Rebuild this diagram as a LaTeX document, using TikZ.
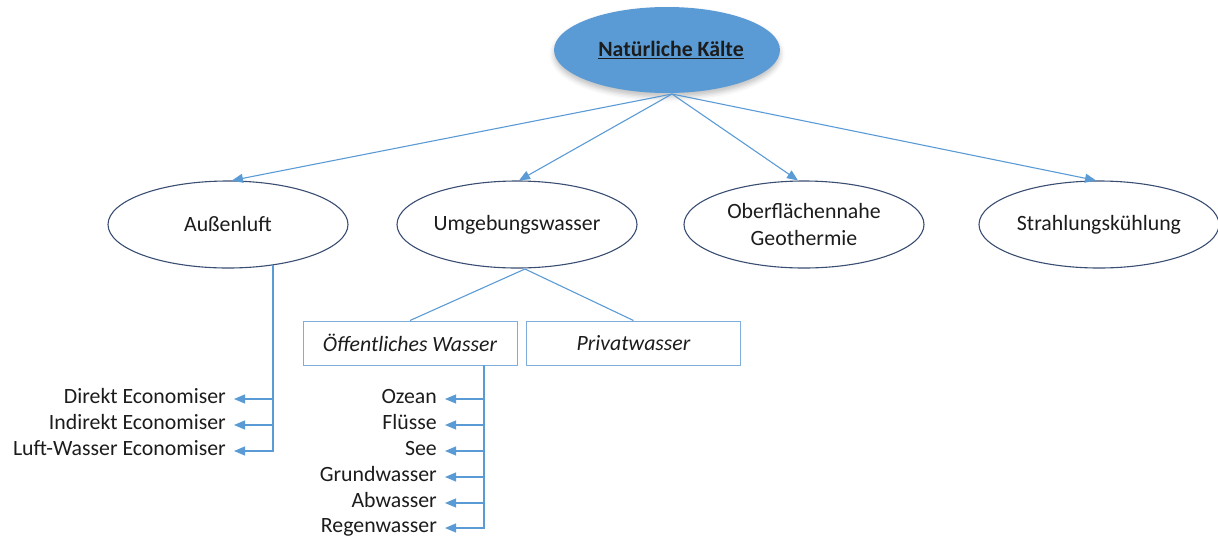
\documentclass[tikz,border=0pt]{standalone}
\usepackage{fontspec}
\setmainfont{Carlito}
\usetikzlibrary{shapes.geometric,arrows.meta,shadows.blur}
\definecolor{linkblue}{HTML}{5B9BD5}
\definecolor{rootfill}{HTML}{5B9BD5}
\definecolor{ringblue}{HTML}{3A4D73}
\definecolor{boxblue}{HTML}{7FAEDD}
\definecolor{ink}{HTML}{1C1C1C}
\newcommand{\diafont}{\fontsize{21.8}{27}\selectfont}
\tikzset{
  oval/.style={ellipse, draw=ringblue, line width=1.1pt, fill=white,
    minimum width=240pt, minimum height=87pt, inner sep=0pt,
    align=center, text=ink, font=\diafont},
  rootoval/.style={ellipse, fill=rootfill, minimum width=226pt, minimum height=86pt,
    inner sep=0pt, text=ink, font=\diafont\bfseries,
    blur shadow={shadow xshift=0pt, shadow yshift=-4pt, shadow opacity=25, shadow blur radius=5pt}},
  subbox/.style={rectangle, draw=boxblue, line width=1pt, fill=white,
    minimum width=214pt, minimum height=44pt, inner sep=0pt,
    text=ink, font=\diafont\itshape},
  item/.style={anchor=east, inner sep=0pt, text height=14pt, text depth=3pt,
    text=ink, font=\diafont},
  link/.style={draw=linkblue, line width=1.1pt},
  arr/.style={link, -{Triangle[length=11pt,width=9pt]}},
}
\begin{document}
\begin{tikzpicture}[x=1pt,y=-1pt]
\useasboundingbox (0,0) rectangle (1218,539);

% root and first level
\node[rootoval] (root) at (667,50) {\hspace{8pt}\underline{Natürliche Kälte}};
\coordinate (hub) at (672,94);

\node[oval] (aussen) at (228,224.5) {Außenluft};
\node[oval] (umg)    at (517,224.5) {Umgebungswasser};
\node[oval] (geo)    at (804,224.5) {Oberflächennahe\\Geothermie};
\node[oval] (strahl) at (1099,224.5) {Strahlungskühlung};

\draw[arr] (hub) -- ([xshift=4pt]aussen.north);
\draw[arr] (hub) -- ([xshift=2pt]umg.north);
\draw[arr] (hub) -- ([xshift=-6pt]geo.north);
\draw[arr] (hub) -- ([xshift=-3pt]strahl.north);

% water sources
\node[subbox] (oeff)   at (410,343) {Öffentliches Wasser};
\node[subbox] (privat) at (633.5,343) {Privatwasser};
\coordinate (umgfoot) at (525,269);
\draw[link] (umgfoot) -- (oeff.north);
\draw[link] (umgfoot) -- (privat.north);

% outdoor air economisers
\node[item] (d1) at (226,398) {Direkt Economiser};
\node[item] (d2) at (226,424) {Indirekt Economiser};
\node[item] (d3) at (226,450) {Luft-Wasser Economiser};
\coordinate (afoot) at (273,265);
\foreach \n in {d1,d2,d3}
  \draw[arr] (afoot) |- ([xshift=8pt,yshift=-1pt]\n.east);

% public water bodies
\node[item] (w1) at (437,398) {Ozean};
\node[item] (w2) at (437,424) {Flüsse};
\node[item] (w3) at (437,450) {See};
\node[item] (w4) at (437,476) {Grundwasser};
\node[item] (w5) at (437,502) {Abwasser};
\node[item] (w6) at (437,527) {Regenwasser};
\coordinate (ofoot) at (484,365);
\foreach \n in {w1,w2,w3,w4,w5,w6}
  \draw[arr] (ofoot) |- ([xshift=8pt,yshift=-1pt]\n.east);
\end{tikzpicture}
\end{document}
